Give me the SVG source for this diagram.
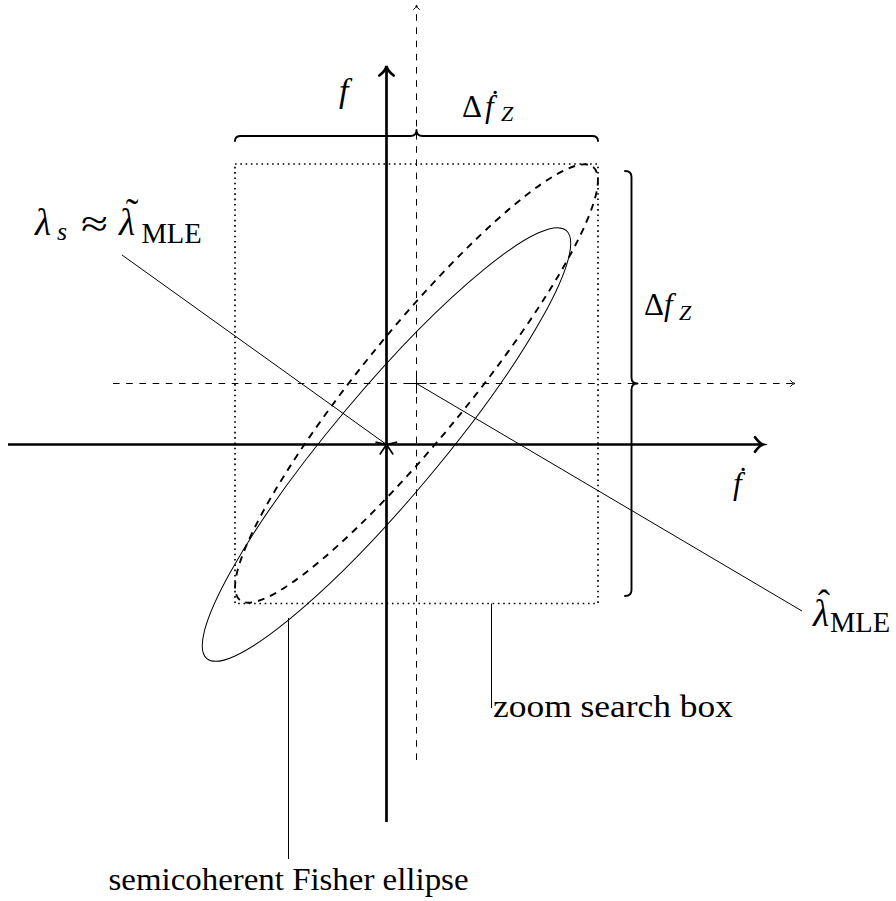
<svg xmlns="http://www.w3.org/2000/svg" width="896" height="901" viewBox="0 0 896 901">
<style>
.t{font-family:"Liberation Serif","Times New Roman",serif;fill:#000}
.i{font-style:italic}
.n{font-style:normal}
.thin{stroke:#000;stroke-width:1;fill:none}
.dash{stroke:#000;stroke-width:1;fill:none;stroke-dasharray:6.6 6.6}
.axis{stroke:#000;stroke-width:2.7;fill:none}
.brace{stroke:#000;stroke-width:1.9;fill:none;stroke-linecap:round;stroke-linejoin:round}
</style>
<rect width="896" height="901" fill="#fff"/>
<g id="connectors">
  <g id="dashed-axes">
    <line class="dash" x1="416.5" y1="760" x2="416.5" y2="6"/>
    <path class="thin" d="M413.3,9.8 Q416.1,7.6 416.5,5 Q416.9,7.6 419.7,9.8"/>
    <line class="dash" x1="113" y1="383.5" x2="794" y2="383.5"/>
    <path class="thin" d="M790.2,380.3 Q792.4,383.1 795,383.5 Q792.4,383.9 790.2,386.7"/>
  </g>
  <g id="main-axes">
    <line class="axis" x1="386.5" y1="822" x2="386.5" y2="67.5"/>
    <path class="axis" stroke-linecap="round" d="M379.3,75.5 Q385.5,71 386.5,66 Q387.5,71 393.7,75.5"/>
    <line class="axis" x1="8" y1="444.5" x2="761.5" y2="444.5"/>
    <path class="axis" stroke-linecap="round" d="M755,437.3 Q759.5,443.5 763,444.5 Q759.5,445.5 755,451.7"/>
  </g>
  <g id="pointers">
    <line class="thin" x1="122" y1="255" x2="386.5" y2="444.5"/>
    <line class="thin" x1="416.5" y1="383.5" x2="802" y2="611"/>
    <line class="thin" x1="491.5" y1="603.5" x2="491.5" y2="708"/>
    <line class="thin" x1="288.5" y1="618" x2="288.5" y2="859"/>
  </g>
</g>
<g id="zoom-box">
  <rect x="235" y="164" width="363" height="439.5" fill="none" stroke="#000" stroke-width="1.7" stroke-dasharray="1.6 3.7"/>
</g>
<g id="semicoherent-ellipse">
  <ellipse cx="0" cy="0" rx="279.5" ry="53.3" transform="translate(386.5,444.5) rotate(-50)" class="thin"/>
</g>
<g id="fisher-ellipse-dashed">
  <ellipse cx="0" cy="0" rx="279.5" ry="53.3" transform="translate(416.5,383.5) rotate(-50.8)" fill="none" stroke="#000" stroke-width="1.9" stroke-dasharray="7 6"/>
</g>
<g id="marks">
  <path class="thin" d="M406.5,383.5 H426.5 M416.5,373.5 V393.5"/>
  <path stroke="#000" stroke-width="1.7" fill="none" d="M386.5,444.5 l-6.7,10 M386.5,444.5 l6.7,10 M386.5,444.5 l-11,-2.3 M386.5,444.5 l10.7,-2.3"/>
</g>
<g id="braces">
  <path class="brace" d="M235,141 Q235,136 241,136 L410.5,136 Q416.5,136 416.5,130 Q416.5,136 422.5,136 L592,136 Q598,136 598,141"/>
  <path class="brace" d="M625,171 Q631.5,171 631.5,177 L631.5,377.5 Q631.5,383.5 637.5,383.5 Q631.5,383.5 631.5,389.5 L631.5,590 Q631.5,596 625,596"/>
</g>
<g id="label-f">
  <text class="t i" x="339" y="102" font-size="34">f</text>
</g>
<g id="label-dfdot">
  <text class="t" x="462" y="117" font-size="31">Δ<tspan class="i" x="485">ḟ</tspan><tspan class="i" x="501" y="121" font-size="22">Z</tspan></text>
</g>
<g id="label-df">
  <text class="t" x="644" y="315" font-size="31">Δ<tspan class="i" x="664">f</tspan><tspan class="i" x="679" y="320" font-size="22">Z</tspan></text>
</g>
<g id="label-fdot">
  <text class="t i" x="733" y="494" font-size="31">ḟ</text>
</g>
<g id="label-lambda-s">
  <text class="t i" x="35" y="235" font-size="37">λ<tspan x="57" y="240" font-size="26">s</tspan></text>
  <text class="t" x="81" y="236" font-size="37" textLength="27" lengthAdjust="spacingAndGlyphs">≈</text>
  <text class="t i" x="119" y="235" font-size="37">λ<tspan class="n" x="132" y="225" font-size="38" text-anchor="middle">˜</tspan><tspan class="n" x="141.5" y="243" font-size="28.5">MLE</tspan></text>
</g>
<g id="label-lambda-hat">
  <text class="t i" x="813" y="626" font-size="37">λ<tspan class="n" x="824" y="616" text-anchor="middle">ˆ</tspan><tspan class="n" x="830" y="632" font-size="28.5">MLE</tspan></text>
</g>
<g id="label-zoom-box">
  <text class="t" x="493" y="717" font-size="32" textLength="240" lengthAdjust="spacingAndGlyphs">zoom search box</text>
</g>
<g id="label-semicoherent">
  <text class="t" x="288.5" y="890" font-size="31" text-anchor="middle" textLength="360" lengthAdjust="spacingAndGlyphs">semicoherent Fisher ellipse</text>
</g>
</svg>
